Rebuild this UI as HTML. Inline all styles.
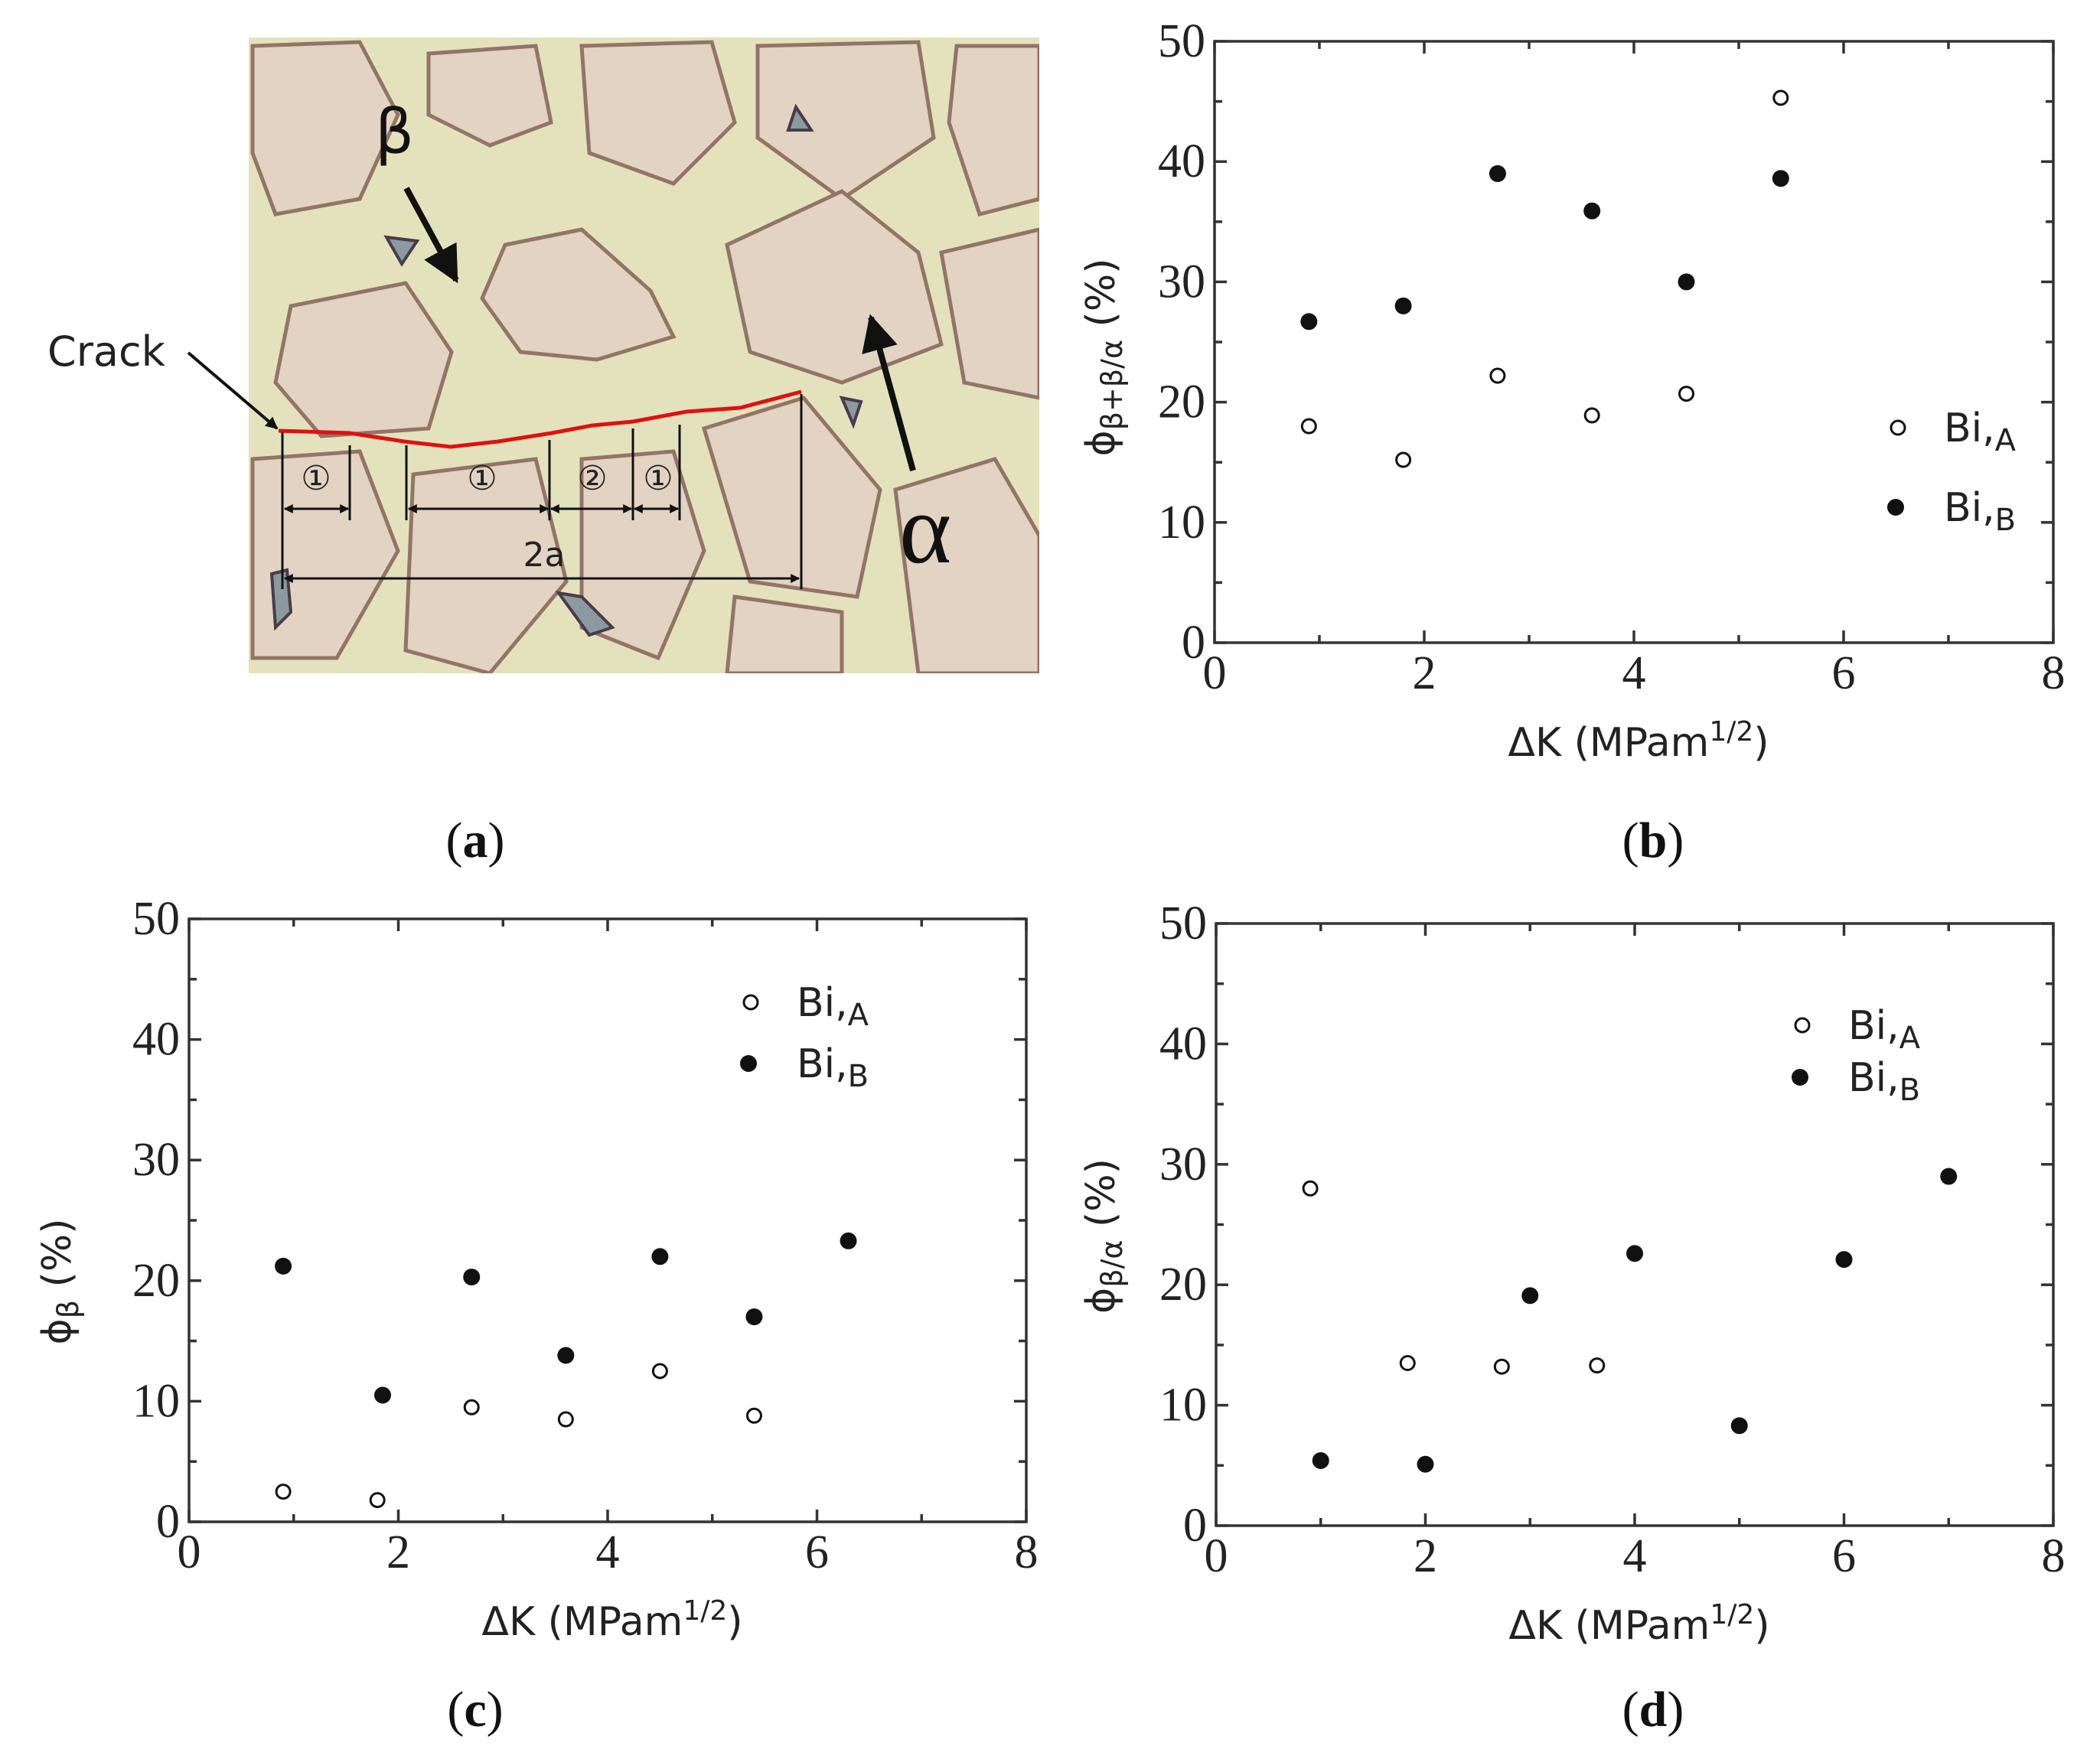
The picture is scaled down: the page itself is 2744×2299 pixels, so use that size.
<!DOCTYPE html>
<html><head><meta charset="utf-8">
<style>
html,body{margin:0;padding:0;background:#fff;}
svg{display:block;}
.tick{font-family:"Liberation Serif",serif;font-size:62px;fill:#222;}
.lab{font-family:"DejaVu Sans","Liberation Sans",sans-serif;font-size:52px;fill:#222;}
.cap{font-family:"Liberation Serif",serif;font-size:66px;fill:#111;}
</style></head>
<body>
<svg id="fig" width="2744" height="2299" viewBox="0 0 2744 2299" xmlns="http://www.w3.org/2000/svg">
<defs>
<clipPath id="photoClip"><rect x="325" y="49" width="1033" height="831"/></clipPath>
<marker id="ah" viewBox="0 0 10 10" refX="9" refY="5" markerWidth="6" markerHeight="6" orient="auto-start-reverse"><path d="M0,0 L10,5 L0,10 z" fill="#111"/></marker>
<marker id="ahs" viewBox="0 0 10 10" refX="9" refY="5" markerWidth="4" markerHeight="4" orient="auto-start-reverse"><path d="M0,0 L10,5 L0,10 z" fill="#111"/></marker>
</defs>
<g>
<g clip-path="url(#photoClip)">
<rect x="325" y="49" width="1033" height="831" fill="#e4e2bd"/>
<g fill="#e2d2c4" stroke="#8a6a5e" stroke-width="5" opacity="0.9">
<path d="M330,60 L470,55 L520,150 L470,260 L360,280 L330,200 Z"/>
<path d="M560,70 L700,60 L720,160 L640,190 L560,150 Z"/>
<path d="M760,60 L930,55 L960,160 L880,240 L770,200 Z"/>
<path d="M990,60 L1200,55 L1220,180 L1100,260 L990,180 Z"/>
<path d="M1250,60 L1358,60 L1358,260 L1280,280 L1240,160 Z"/>
<path d="M380,400 L530,370 L590,460 L560,560 L420,570 L360,500 Z"/>
<path d="M660,320 L760,300 L850,380 L880,440 L780,470 L680,460 L630,390 Z"/>
<path d="M950,320 L1100,250 L1200,330 L1230,450 L1100,500 L980,460 Z"/>
<path d="M1230,330 L1358,300 L1358,520 L1260,500 Z"/>
<path d="M330,600 L470,590 L520,720 L440,860 L330,860 Z"/>
<path d="M540,620 L700,600 L740,760 L640,880 L530,850 Z"/>
<path d="M760,600 L880,590 L920,720 L860,860 L760,820 Z"/>
<path d="M920,560 L1050,520 L1150,640 L1120,780 L980,760 Z"/>
<path d="M1170,640 L1300,600 L1358,700 L1358,880 L1200,880 Z"/>
<path d="M960,780 L1100,800 L1100,880 L950,880 Z"/>
</g>
<g fill="#8a9aa0" stroke="#4a3a4a" stroke-width="4">
<path d="M505,310 L545,315 L525,345 Z"/>
<path d="M730,775 L760,780 L800,820 L770,830 Z"/>
<path d="M355,750 L375,745 L380,800 L360,820 Z"/>
<path d="M1040,140 L1060,170 L1030,170 Z"/>
<path d="M1100,520 L1125,525 L1115,555 Z"/>
</g>
</g>
<g>
<text x="62" y="478" font-family="DejaVu Sans, sans-serif" font-size="54" fill="#222">Crack</text>
<line x1="246" y1="461" x2="362" y2="560" stroke="#111" stroke-width="4" marker-end="url(#ahs)"/>
<polyline fill="none" stroke="#e01010" stroke-width="5" points="364,563 457,566 528,577 589,584 651,577 721,566 774,556 827,551 897,538 967,533 1047,512"/>
<g stroke="#111" stroke-width="3" fill="none">
<line x1="369" y1="565" x2="369" y2="770"/><line x1="457" y1="582" x2="457" y2="680"/>
<line x1="531" y1="582" x2="531" y2="680"/><line x1="718" y1="575" x2="718" y2="680"/>
<line x1="827" y1="560" x2="827" y2="680"/><line x1="888" y1="555" x2="888" y2="680"/>
<line x1="1047" y1="515" x2="1047" y2="770"/>
<line x1="372" y1="665" x2="455" y2="665" marker-start="url(#ahs)" marker-end="url(#ahs)"/>
<line x1="534" y1="665" x2="716" y2="665" marker-start="url(#ahs)" marker-end="url(#ahs)"/>
<line x1="720" y1="665" x2="825" y2="665" marker-start="url(#ahs)" marker-end="url(#ahs)"/>
<line x1="829" y1="665" x2="886" y2="665" marker-start="url(#ahs)" marker-end="url(#ahs)"/>
<line x1="372" y1="756" x2="1044" y2="756" marker-start="url(#ahs)" marker-end="url(#ahs)"/>
</g>
<g font-family="DejaVu Sans, sans-serif" font-size="44" fill="#222" text-anchor="middle">
<text x="413" y="640">①</text>
<text x="630" y="640">①</text>
<text x="774" y="640">②</text>
<text x="860" y="640">①</text>
<text x="711" y="740" font-size="44">2a</text>
</g>
<text x="490" y="200" font-family="DejaVu Sans, sans-serif" font-size="80" fill="#111">β</text>
<line x1="531" y1="246" x2="596" y2="366" stroke="#111" stroke-width="8" marker-end="url(#ah)"/>
<text x="1175" y="735" font-family="Liberation Serif, serif" font-size="130" fill="#111">α</text>
<line x1="1193" y1="615" x2="1138" y2="415" stroke="#111" stroke-width="8" marker-end="url(#ah)"/>
</g>
<text x="621" y="1120" text-anchor="middle" class="cap">(<tspan font-weight="bold">a</tspan>)</text>
</g>
<text x="2160" y="1120" text-anchor="middle" class="cap">(<tspan font-weight="bold">b</tspan>)</text>
<text x="621" y="2256" text-anchor="middle" class="cap">(<tspan font-weight="bold">c</tspan>)</text>
<text x="2160" y="2256" text-anchor="middle" class="cap">(<tspan font-weight="bold">d</tspan>)</text>
</svg>
<script>
// ---- data ----
const xTicks = [0, 2, 4, 6, 8];
const yTicks = [0, 10, 20, 30, 40, 50];
const bA_x = [0.9, 1.8, 2.7, 3.6, 4.5, 5.4];
const bA_y = [18, 15.2, 22.2, 18.9, 20.7, 45.3];
const bB_x = [0.9, 1.8, 2.7, 3.6, 4.5, 5.4];
const bB_y = [26.7, 28, 39, 35.9, 30, 38.6];
const cA_x = [0.9, 1.8, 2.7, 3.6, 4.5, 5.4];
const cA_y = [2.5, 1.8, 9.5, 8.5, 12.5, 8.8];
const cB_x = [0.9, 1.85, 2.7, 3.6, 4.5, 5.4, 6.3];
const cB_y = [21.2, 10.5, 20.3, 13.8, 22, 17, 23.3];
const dA_x = [0.9, 1.83, 2.73, 3.64];
const dA_y = [28, 13.5, 13.2, 13.3];
const dB_x = [1, 2, 3, 4, 5, 6, 7];
const dB_y = [5.4, 5.1, 19.1, 22.6, 8.3, 22.1, 29];

const NS = 'http://www.w3.org/2000/svg';
const svg = document.getElementById('fig');
function mk(tag, attrs, parent) {
  const e = document.createElementNS(NS, tag);
  for (const k in attrs) e.setAttribute(k, attrs[k]);
  (parent || svg).appendChild(e);
  return e;
}
function chart(id, box, A, B, ylab, sub, legend) {
  const g = mk('g', {});
  
  
  const sx = v => box.l + (v / 8) * (box.r - box.l);
  const sy = v => box.b - (v / 50) * (box.b - box.t);
  const frame = mk('rect', {x: box.l, y: box.t, width: box.r - box.l, height: box.b - box.t, fill: 'none', stroke: '#333', 'stroke-width': 3.5}, g);
  
  
  for (let v = 0; v <= 8; v++) {
    const len = v % 2 === 0 ? 16 : 10;
    mk('line', {x1: sx(v), x2: sx(v), y1: box.b, y2: box.b - len, stroke: '#333', 'stroke-width': 3.5}, g);
    mk('line', {x1: sx(v), x2: sx(v), y1: box.t, y2: box.t + len, stroke: '#333', 'stroke-width': 3.5}, g);
  }
  for (let v = 0; v <= 50; v += 5) {
    const len = v % 10 === 0 ? 16 : 10;
    mk('line', {y1: sy(v), y2: sy(v), x1: box.l, x2: box.l + len, stroke: '#333', 'stroke-width': 3.5}, g);
    mk('line', {y1: sy(v), y2: sy(v), x1: box.r, x2: box.r - len, stroke: '#333', 'stroke-width': 3.5}, g);
  }
  xTicks.forEach(v => {
    const t = mk('text', {x: sx(v), y: box.b + 60, 'text-anchor': 'middle', class: 'tick'}, g);
    t.textContent = v;
    
    
  });
  yTicks.forEach(v => {
    const t = mk('text', {x: box.l - 12, y: sy(v) + 20, 'text-anchor': 'end', class: 'tick'}, g);
    t.textContent = v;
    
    
  });
  const xl = mk('text', {x: (box.l + box.r) / 2 + 6, y: box.b + 148, 'text-anchor': 'middle', class: 'lab', 'font-size': 56}, g);
  xl.innerHTML = 'ΔK (MPam<tspan dy="-20" font-size="36">1/2</tspan><tspan dy="20">)</tspan>';
  
  
  const yc = (box.t + box.b) / 2 + ylab.dy;
  const yl = mk('text', {x: 0, y: 0, 'text-anchor': 'middle', class: 'lab', 'font-size': 56, transform: 'translate(' + ylab.x + ',' + yc + ') rotate(-90)'}, g);
  yl.innerHTML = 'ϕ<tspan font-size="38" dy="10">' + sub + '</tspan><tspan dy="-10"> (%)</tspan>';
  
  
  A[0].forEach((x, i) => {
    const c = mk('circle', {cx: sx(x), cy: sy(A[1][i]), r: 9, fill: '#fff', stroke: '#111', 'stroke-width': 3}, g);
    
    
  });
  B[0].forEach((x, i) => {
    const c = mk('circle', {cx: sx(x), cy: sy(B[1][i]), r: 11, fill: '#111'}, g);
    
    
  });
  const la = mk('circle', {cx: legend.x, cy: legend.ya, r: 9, fill: '#fff', stroke: '#111', 'stroke-width': 3}, g);
  
  
  const lta = mk('text', {x: legend.x + 60, y: legend.ya + 18, class: 'lab', 'font-size': 58}, g);
  lta.innerHTML = 'Bi,<tspan font-size="40" dy="12">A</tspan>';
  
  
  const lb = mk('circle', {cx: legend.x - 3, cy: legend.yb, r: 11, fill: '#111'}, g);
  
  
  const ltb = mk('text', {x: legend.x + 60, y: legend.yb + 18, class: 'lab', 'font-size': 58}, g);
  ltb.innerHTML = 'Bi,<tspan font-size="40" dy="12">B</tspan>';
  
  
}
chart('b', {l: 1587, r: 2683, t: 54, b: 840}, [bA_x, bA_y], [bB_x, bB_y], {x: 1456, dy: 20}, 'β+β/α', {x: 2480, ya: 559, yb: 663});
chart('c', {l: 247, r: 1341, t: 1201, b: 1989}, [cA_x, cA_y], [cB_x, cB_y], {x: 92, dy: 80}, 'β', {x: 981, ya: 1310, yb: 1390});
chart('d', {l: 1589, r: 2683, t: 1207, b: 1994}, [dA_x, dA_y], [dB_x, dB_y], {x: 1456, dy: 15}, 'β/α', {x: 2355, ya: 1340, yb: 1408});
</script>
</body></html>
